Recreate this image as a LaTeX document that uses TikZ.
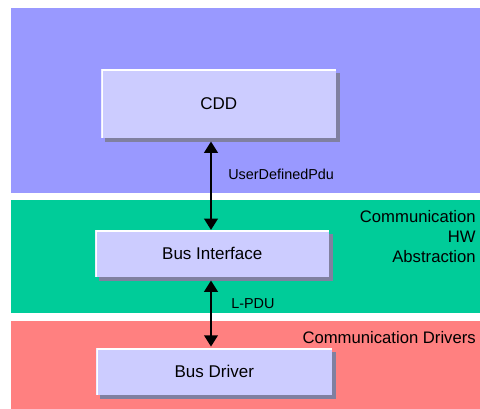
\documentclass[tikz,border=0pt]{standalone}
\usepackage{fontspec}
\setmainfont{Liberation Sans}
\usetikzlibrary{arrows.meta,shadows}
\definecolor{topband}{HTML}{9999FF}
\definecolor{midband}{HTML}{00CC99}
\definecolor{lowband}{HTML}{FF8080}
\definecolor{boxfill}{HTML}{CCCCFF}
\definecolor{boxshadow}{HTML}{8080A0}
\tikzset{
  modbox/.style={rectangle, fill=boxfill, inner sep=0pt, anchor=north west,
    font=\fontsize{12.75pt}{15pt}\selectfont,
    general shadow={shadow xshift=2.5pt, shadow yshift=-2.5pt, fill=boxshadow},
    path picture={\draw[white, line width=2pt]
      (path picture bounding box.south west) -- (path picture bounding box.north west)
      -- (path picture bounding box.north east);}},
  flow/.style={{Triangle[width=10pt,length=8.5pt]}-{Triangle[width=10pt,length=8.5pt]}, line width=2pt, black},
  flowlabel/.style={anchor=west, inner sep=0pt, font=\fontsize{10.8pt}{13pt}\selectfont},
  layerlabel/.style={inner sep=0pt, align=right, font=\fontsize{12.5pt}{15pt}\selectfont}
}
\begin{document}
\begin{tikzpicture}[x=0.75pt, y=-0.75pt]
\useasboundingbox (0,0) rectangle (480,409);
\fill[white] (0,0) rectangle (480,409);
% layer bands
\fill[topband] (11,8) rectangle (480,193);
\fill[midband] (11,200) rectangle (480,313);
\fill[lowband] (11,321) rectangle (480,409);
% boxes
\node[modbox, minimum width=235*0.75pt, minimum height=69*0.75pt] (cdd) at (101,69) {\raisebox{-2pt}{CDD}};
\node[modbox, minimum width=234*0.75pt, minimum height=47*0.75pt] (bi) at (95,230) {\raisebox{-2pt}{Bus Interface}};
\node[modbox, minimum width=236*0.75pt, minimum height=47*0.75pt] (bd) at (96,348) {Bus Driver};
% connectors
\coordinate (ax) at (211,0);
\draw[flow, shorten <=2.2pt] (cdd.south -| ax) -- (bi.north -| ax);
\draw[flow, shorten <=2.2pt, shorten >=1pt] (bi.south -| ax) -- (bd.north -| ax);
% connector labels
\node[flowlabel] (udp) at (228,174) {UserDefinedPdu};
\node[flowlabel] (lpdu) at (231,304) {L-PDU};
% layer labels
\node[layerlabel, anchor=north east] (hwabs) at (476,210.5) {Communication\\HW\\Abstraction};
\node[layerlabel, anchor=base east] (drv) at (476,344) {Communication Drivers};
\end{tikzpicture}
\end{document}
